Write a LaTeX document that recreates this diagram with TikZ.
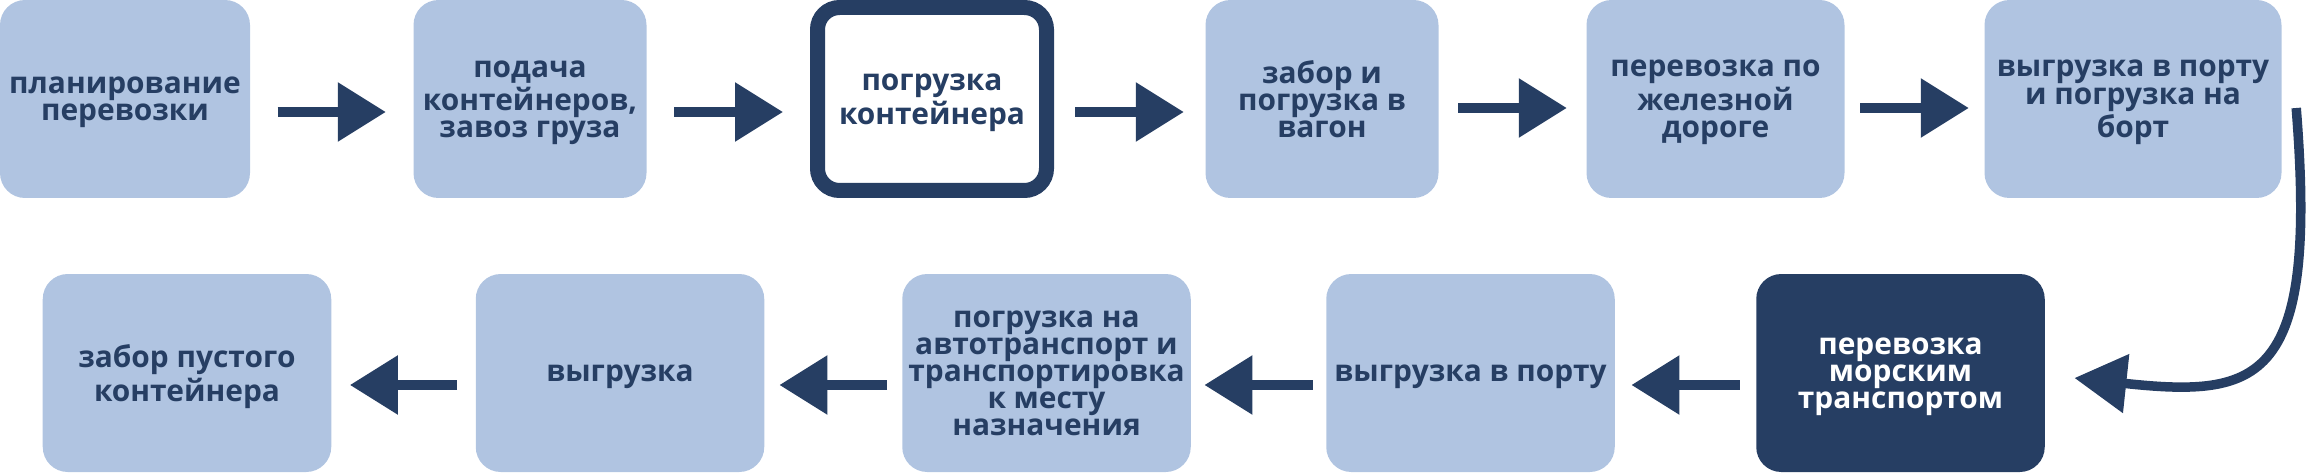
\documentclass[tikz,border=0pt]{standalone}
\usepackage{fontspec}
\setmainfont{Open Sans}
\usetikzlibrary{arrows.meta}
\definecolor{claro}{RGB}{176,196,225}
\definecolor{oscuro}{RGB}{38,62,99}

\begin{document}
\begin{tikzpicture}[
  paso/.style={fill=claro, rounded corners=2.5mm, minimum width=#1, minimum height=1.98cm, inner sep=0pt, align=center, text=oscuro, text depth=-5pt, font=\bfseries\fontsize{8.5}{7.7}\selectfont},
  paso/.default=2.885cm,
  pasoblanco/.style={paso=2.29cm, fill=white, draw=oscuro, line width=1.5mm, rounded corners=2.2mm, minimum height=1.83cm},
  pasooscuro/.style={paso, fill=oscuro, text=white},
  flecha/.style={-{Triangle[length=4.8mm, width=5.7mm]}, line width=0.93mm, draw=oscuro, shorten <=#1, shorten >=#1},
  curva/.style={-{Triangle[length=5.2mm, width=5.7mm]}, line width=0.95mm, draw=oscuro}]
\useasboundingbox (0,0) rectangle (23.08,4.73);
\node[paso=2.50cm] (plan) at (1.25,3.74) {планирование\\перевозки};
\node[paso=2.33cm] (suministro) at (5.30,3.74) {подача\\контейнеров,\\завоз груза};
\node[pasoblanco] (carga) at (9.32,3.74) {погрузка\\контейнера};
\node[paso=2.33cm] (vagon) at (13.22,3.74) {забор и\\погрузка в\\вагон};
\node[paso=2.58cm] (ferro) at (17.155,3.74) {перевозка по\\железной\\дороге};
\node[paso=2.97cm] (puerto) at (21.33,3.74) {выгрузка в порту\\и погрузка на\\борт};
\node[pasooscuro] (maritimo) at (19.005,1.0) {перевозка\\морским\\транспортом};
\node[paso] (desembarque) at (14.705,1.0) {выгрузка в порту};
\node[paso] (camion) at (10.465,1.0) {погрузка на\\автотранспорт и\\транспортировка\\к месту\\назначения};
\node[paso] (descarga) at (6.20,1.0) {выгрузка};
\node[paso] (retorno) at (1.87,1.0) {забор пустого\\контейнера};
\draw[flecha=2.7mm] ([yshift=-1.3mm]plan.east) -- ([yshift=-1.3mm]suministro.west);
\draw[flecha=2.7mm] ([yshift=-1.3mm]suministro.east) -- ([yshift=-1.3mm]carga.west);
\draw[flecha=2.1mm] ([yshift=-1.3mm]carga.east) -- ([yshift=-1.3mm]vagon.west);
\draw[flecha=1.9mm] ([yshift=-0.9mm]vagon.east) -- ([yshift=-0.9mm]ferro.west);
\draw[flecha=1.5mm] ([yshift=-0.9mm]ferro.east) -- ([yshift=-0.9mm]puerto.west);
\draw[curva] ([xshift=1.4mm, yshift=-0.9mm]puerto.east) .. controls +(0.22,-2.75) and +(1.86,-0.2) .. ([xshift=2.9mm, yshift=-0.5mm]maritimo.east);
\draw[flecha=1.6mm] ([yshift=-1.2mm]maritimo.west) -- ([yshift=-1.2mm]desembarque.east);
\draw[flecha=1.3mm] ([yshift=-1.2mm]desembarque.west) -- ([yshift=-1.2mm]camion.east);
\draw[flecha=1.45mm] ([yshift=-1.2mm]camion.west) -- ([yshift=-1.2mm]descarga.east);
\draw[flecha=1.8mm] ([yshift=-1.2mm]descarga.west) -- ([yshift=-1.2mm]retorno.east);
\end{tikzpicture}
\end{document}
